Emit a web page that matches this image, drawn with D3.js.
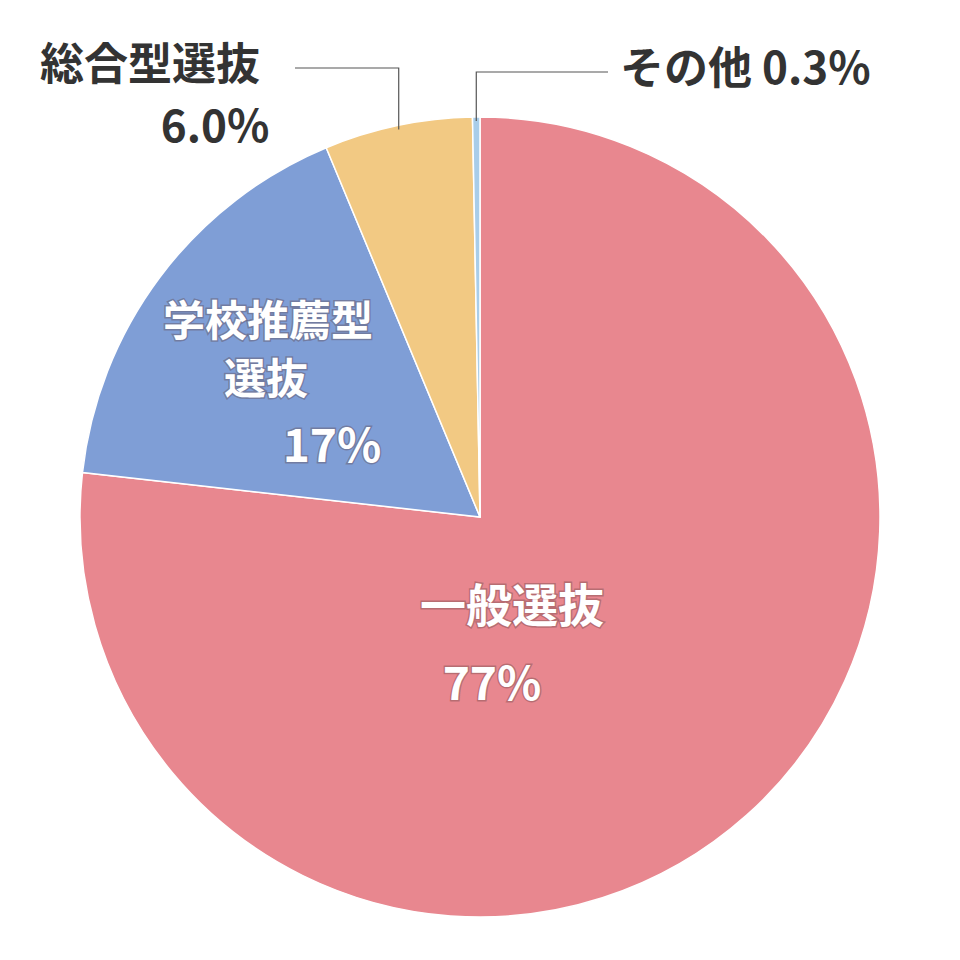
<!DOCTYPE html>
<html><head><meta charset="utf-8">
<script src="https://cdn.jsdelivr.net/npm/d3@7"></script>
<style>body{margin:0;background:#fff}</style>
</head><body>
<svg id="c" width="960" height="960"></svg>
<script>
// 入試区分の割合
const categories = ["一般選抜", "学校推薦型選抜", "総合型選抜", "その他"];
const values = [77, 17, 6.0, 0.3];
const colors = ["#e8878f", "#7f9ed6", "#f2c983", "#a9cde9"];

const svg = d3.select("#c");
const cx = 480, cy = 517, r = 400;
const g = svg.append("g").attr("transform", `translate(${cx},${cy})`);

const pie = d3.pie().sort(null).value(d => d)(values);
const arc = d3.arc().innerRadius(0).outerRadius(r);

g.selectAll("path").data(pie).enter().append("path")
  .attr("d", arc)
  .attr("fill", (d, i) => colors[i])
  .attr("stroke", "#fff").attr("stroke-width", 1.5);

const font = "'Noto Sans CJK JP', 'Noto Sans', sans-serif";
function label(x, y, t, fill, size, anchor) {
  svg.append("text").attr("x", x).attr("y", y).text(t)
    .attr("fill", fill).attr("font-size", size).attr("font-weight", "bold")
    .attr("font-family", font).attr("text-anchor", anchor || "middle")
    .attr("dominant-baseline", "middle")
    .style("paint-order", "stroke")
    .attr("stroke", fill === "#fff" ? "rgba(90,60,60,0.35)" : "none")
    .attr("stroke-width", 3);
}

// 一般選抜
label(512, 610, categories[0], "#fff", 46);
label(492, 688, values[0] + "%", "#fff", 46);
// 学校推薦型選抜
label(268, 325, "学校推薦型", "#fff", 42);
label(266, 383, "選抜", "#fff", 42);
label(332, 450, values[1] + "%", "#fff", 46);
// 総合型選抜 (外側)
label(150, 68, categories[2], "#333", 44);
label(215, 130, values[2].toFixed(1) + "%", "#333", 44);
// その他 (外側)
label(620, 72, categories[3] + " " + values[3] + "%", "#333", 44, "start");

// 引き出し線
const mid = d => (d.startAngle + d.endAngle) / 2;
const pt = (a, rr) => [cx + rr * Math.sin(a), cy - rr * Math.cos(a)];
const p2 = pt(mid(pie[2]), r - 4);
svg.append("polyline").attr("fill", "none").attr("stroke", "#555").attr("stroke-width", 1.2)
  .attr("points", [[295, 68], [p2[0], 68], p2].map(p => p.join(",")).join(" "));
const p3 = pt(mid(pie[3]), r - 4);
svg.append("polyline").attr("fill", "none").attr("stroke", "#555").attr("stroke-width", 1.2)
  .attr("points", [p3, [p3[0], 72], [608, 72]].map(p => p.join(",")).join(" "));
</script>
</body></html>
